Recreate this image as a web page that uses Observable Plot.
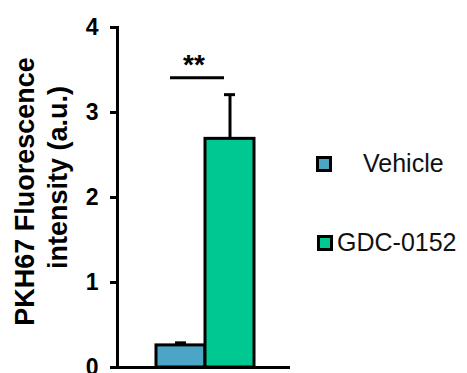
<!DOCTYPE html>
<html>
<head>
<meta charset="utf-8">
<script src="https://cdn.jsdelivr.net/npm/d3@7"></script>
<script src="https://cdn.jsdelivr.net/npm/@observablehq/plot@0.6"></script>
<style>
  html, body { margin: 0; padding: 0; background: #fff; }
  #wrap { position: relative; width: 467px; height: 373px; overflow: hidden; font-family: "Liberation Sans", Arial, sans-serif; }
  .leg { position: absolute; display: flex; align-items: center; font-size: 25px; color: #111; white-space: nowrap; }
  .sw { width: 16px; height: 16px; box-sizing: border-box; border: 3px solid #000; }
</style>
</head>
<body>
<div id="wrap"></div>
<script>
// ---- data ----
const groups = ["Vehicle", "GDC-0152"];
const means = [0.26, 2.69];
const errors = [0.03, 0.52];
const colors = ["#4aa5c6", "#00c893"];
const yTicks = [0, 1, 2, 3, 4];
const sigLevel = 3.41;
const sigText = "**";
const yLabelLine1 = "PKH67 Fluorescence";
const yLabelLine2 = "intensity (a.u.)";

const table = groups.map((g, i) => ({group: g, mean: means[i], err: errors[i], top: means[i] + errors[i]}));

const chart = Plot.plot({
  width: 467,
  height: 373,
  marginLeft: 117,
  marginRight: 177,
  marginTop: 27,
  marginBottom: 6,
  style: {fontFamily: '"Liberation Sans", Arial, sans-serif', color: "#000", background: "transparent", overflow: "visible"},
  x: {domain: groups, range: [156, 254], padding: 0, axis: null},
  y: {domain: [0, 4], axis: null},
  color: {domain: groups, range: colors},
  marks: [
    Plot.barY(table, {x: "group", y: "mean", fill: "group", stroke: "#000", strokeWidth: 3}),
    Plot.ruleX(table, {x: "group", y1: "mean", y2: "top", stroke: "#000", strokeWidth: 3}),
    Plot.tickY(table, {x: "group", y: "top", stroke: "#000", strokeWidth: 3, insetLeft: 19, insetRight: 19}),
    Plot.ruleY([0], {stroke: "#000", strokeWidth: 3}),
    Plot.frame({anchor: "left", stroke: "#000", strokeWidth: 3}),
    Plot.axisY({ticks: yTicks, tickFormat: d => String(d), tickSize: 7, tickPadding: 12, fontSize: 23, fontWeight: "bold", stroke: "#000", strokeWidth: 3, fill: "#000", label: null}),
    Plot.ruleY([sigLevel], {stroke: "#000", strokeWidth: 3, insetLeft: 53, insetRight: 66}),
    Plot.text([sigText], {y: [sigLevel], text: d => d, lineAnchor: "bottom", fontSize: 28, fontWeight: "bold", dx: -10, dy: -4, fill: "#000"}),
    Plot.text([yLabelLine1], {frameAnchor: "left", textAnchor: "middle", text: d => d, rotate: -90, lineAnchor: "bottom", fontSize: 27, fontWeight: "bold", dx: -84, dy: -6, fill: "#000"}),
    Plot.text([yLabelLine2], {frameAnchor: "left", textAnchor: "middle", text: d => d, rotate: -90, lineAnchor: "bottom", fontSize: 27, fontWeight: "bold", dx: -51, dy: -20, fill: "#000"})
  ]
});

const wrap = document.getElementById("wrap");
wrap.appendChild(chart);

// legend built from the same categories/colours
const legendLayout = [{left: 316, top: 149, gap: 31}, {left: 317, top: 228, gap: 4}];
groups.forEach((g, i) => {
  const item = document.createElement("div");
  item.className = "leg";
  item.style.left = legendLayout[i].left + "px";
  item.style.top = legendLayout[i].top + "px";
  const sw = document.createElement("div");
  sw.className = "sw";
  sw.style.background = colors[i];
  const lab = document.createElement("span");
  lab.textContent = g;
  lab.style.marginLeft = legendLayout[i].gap + "px";
  item.appendChild(sw);
  item.appendChild(lab);
  wrap.appendChild(item);
});
</script>
</body>
</html>
